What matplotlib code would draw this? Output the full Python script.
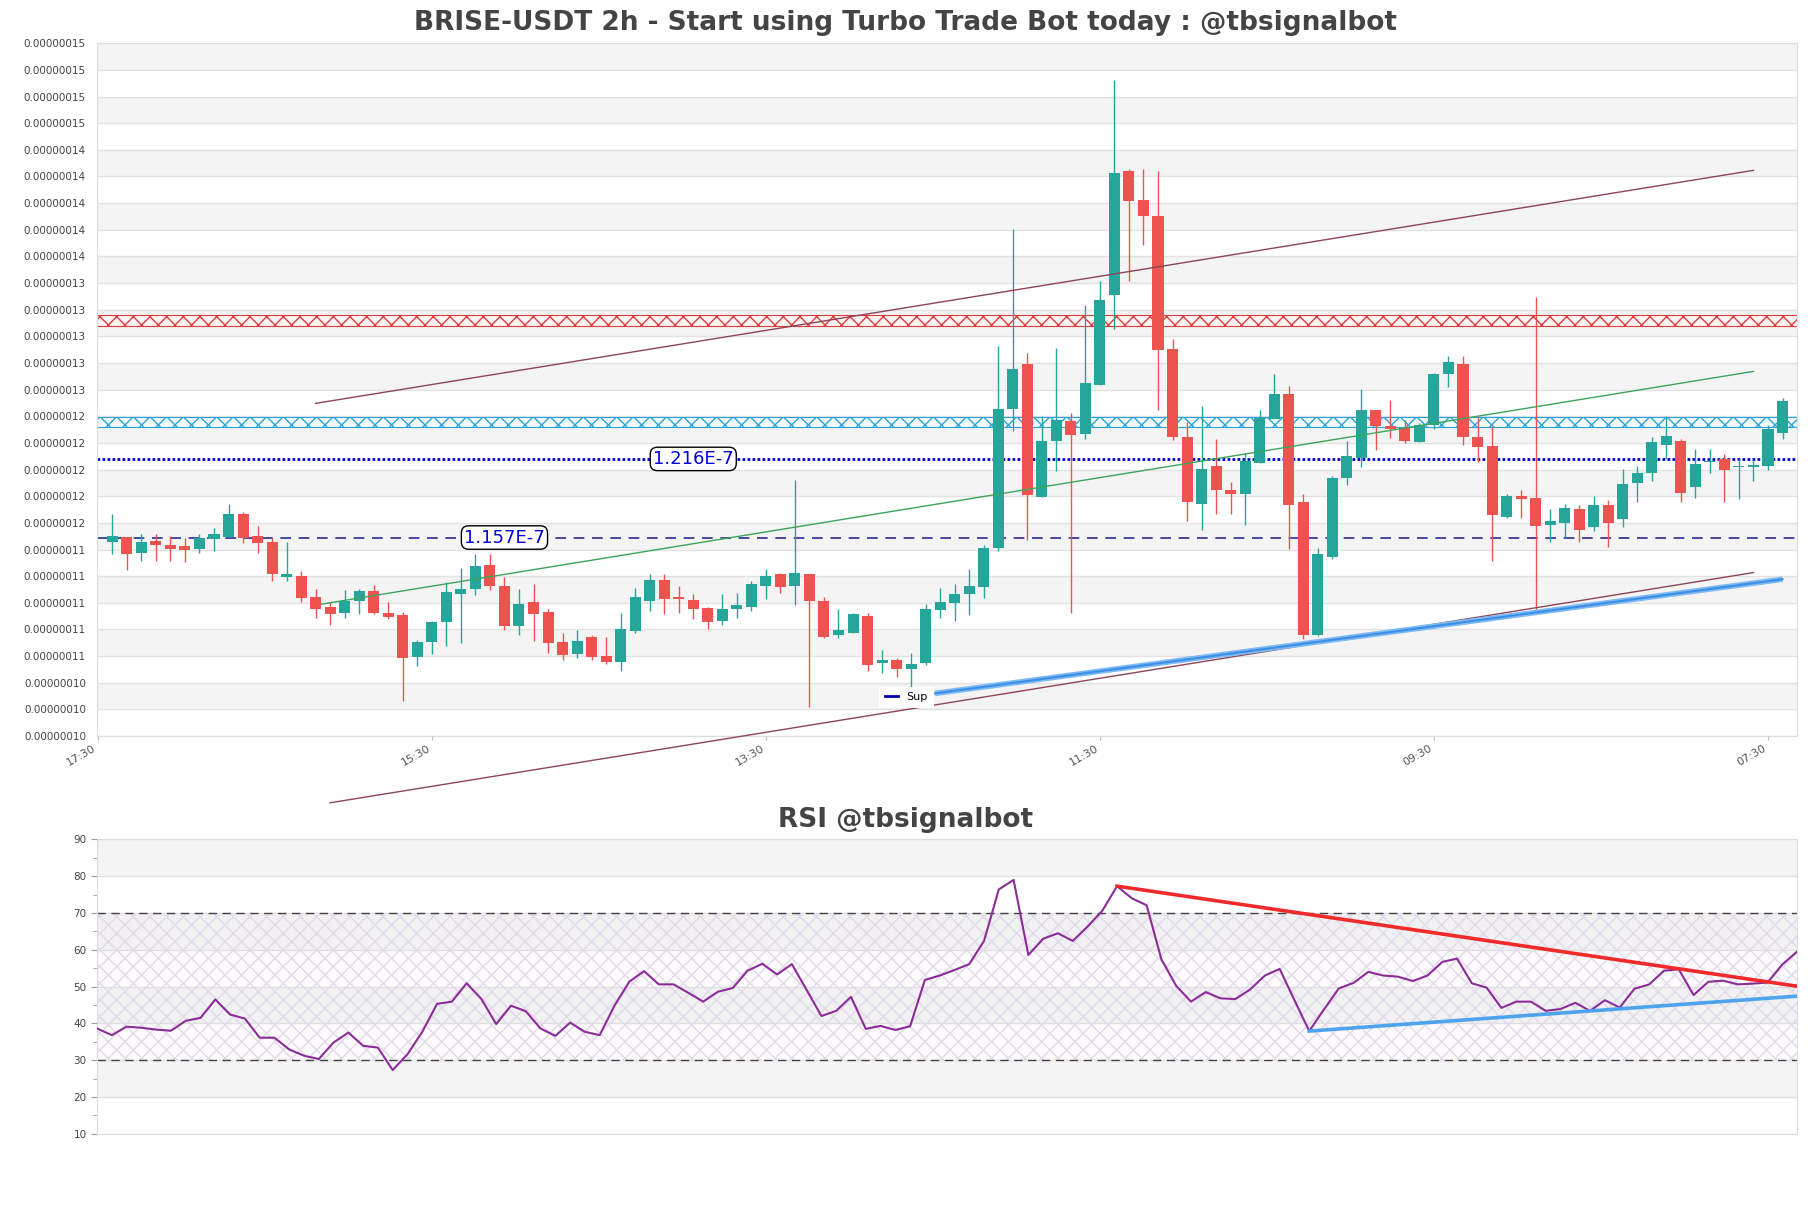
# brise_usdt_chart.py
# Candlestick chart of BRISE-USDT (2h) with trend lines, zones and an RSI panel below
import matplotlib
matplotlib.use("Agg")
import matplotlib.pyplot as plt
from matplotlib.ticker import FuncFormatter, MultipleLocator
from matplotlib.lines import Line2D
import numpy as np

# prices are in units of 1e-7 USDT
opens = [1.1537, 1.1572, 1.1454, 1.1542, 1.1512, 1.1505, 1.1484, 1.1560, 1.1575, 1.1745,
         1.1578, 1.1540, 1.1274, 1.1278, 1.1127, 1.1052, 1.1004, 1.1094, 1.1172, 1.1000,
         1.0992, 1.0674, 1.0785, 1.0935, 1.1147, 1.1182, 1.1362, 1.1205, 1.0907, 1.1085,
         1.1010, 1.0785, 1.0697, 1.0820, 1.0677, 1.0632, 1.0872, 1.1094, 1.1250, 1.1120,
         1.1100, 1.1040, 1.0947, 1.1034, 1.1049, 1.1207, 1.1295, 1.1207, 1.1297, 1.1092,
         1.0839, 1.0856, 1.0982, 1.0629, 1.0650, 1.0584, 1.0629, 1.1025, 1.1079, 1.1147,
         1.1200, 1.1495, 1.2535, 1.2870, 1.1875, 1.2292, 1.2442, 1.2349, 1.2716, 1.3393,
         1.4318, 1.4105, 1.3987, 1.2988, 1.2325, 1.1818, 1.2105, 1.1925, 1.1899, 1.2130,
         1.2461, 1.2645, 1.1836, 1.0842, 1.1425, 1.2017, 1.2167, 1.2525, 1.2407, 1.2392,
         1.2285, 1.2412, 1.2795, 1.2870, 1.2325, 1.2255, 1.1722, 1.1878, 1.1865, 1.1665,
         1.1677, 1.1782, 1.1650, 1.1812, 1.1710, 1.1980, 1.2055, 1.2265, 1.2292, 1.1947,
         1.2135, 1.2163, 1.2097, 1.2097, 1.2107, 1.2355]
highs = [1.1745, 1.1575, 1.1593, 1.1600, 1.1580, 1.1570, 1.1600, 1.1640, 1.1818, 1.1758,
         1.1660, 1.1563, 1.1535, 1.1322, 1.1187, 1.1087, 1.1175, 1.1184, 1.1212, 1.1085,
         1.1010, 1.0800, 1.0945, 1.1235, 1.1340, 1.1447, 1.1447, 1.1270, 1.1182, 1.1222,
         1.1034, 1.0857, 1.0875, 1.0842, 1.0822, 1.1000, 1.1190, 1.1297, 1.1297, 1.1205,
         1.1145, 1.1052, 1.1145, 1.1154, 1.1242, 1.1330, 1.1307, 1.2002, 1.1297, 1.1122,
         1.1032, 1.1000, 1.1000, 1.0725, 1.0665, 1.0707, 1.1070, 1.1190, 1.1220, 1.1332,
         1.1512, 1.3005, 1.3885, 1.2955, 1.2480, 1.2990, 1.2508, 1.3318, 1.3498, 1.5001,
         1.4333, 1.4333, 1.4318, 1.3063, 1.2437, 1.2560, 1.2313, 1.1987, 1.2208, 1.2525,
         1.2795, 1.2705, 1.1893, 1.1488, 1.2030, 1.2298, 1.2688, 1.2525, 1.2600, 1.2450,
         1.2427, 1.2808, 1.2930, 1.2930, 1.2475, 1.2407, 1.1895, 1.1925, 1.3372, 1.1785,
         1.1820, 1.1812, 1.1880, 1.1850, 1.2088, 1.2107, 1.2325, 1.2480, 1.2310, 1.2232,
         1.2238, 1.2195, 1.2163, 1.2150, 1.2412, 1.2617]
lows = [1.1445, 1.1325, 1.1394, 1.1394, 1.1394, 1.1387, 1.1454, 1.1470, 1.1575, 1.1530,
        1.1454, 1.1244, 1.1244, 1.1087, 1.0967, 1.0914, 1.0967, 1.0997, 1.0997, 1.0959,
        1.0344, 1.0607, 1.0695, 1.0757, 1.0780, 1.1140, 1.1175, 1.0877, 1.0837, 1.0795,
        1.0704, 1.0647, 1.0662, 1.0647, 1.0617, 1.0570, 1.0857, 1.1020, 1.0997, 1.1004,
        1.0959, 1.0884, 1.0914, 1.0967, 1.1020, 1.1110, 1.1154, 1.1066, 1.0299, 1.0817,
        1.0818, 1.0850, 1.0570, 1.0550, 1.0525, 1.0450, 1.0612, 1.0967, 1.0945, 1.0989,
        1.1117, 1.1470, 1.2370, 1.1550, 1.1875, 1.2070, 1.1000, 1.2311, 1.2716, 1.3138,
        1.3495, 1.3768, 1.2530, 1.2300, 1.1695, 1.1630, 1.1750, 1.1750, 1.1662, 1.2130,
        1.2461, 1.1484, 1.0812, 1.0830, 1.1412, 1.1965, 1.2100, 1.2230, 1.2320, 1.2280,
        1.2285, 1.2388, 1.2700, 1.2268, 1.2137, 1.1394, 1.1717, 1.1717, 1.1004, 1.1537,
        1.1572, 1.1537, 1.1620, 1.1500, 1.1650, 1.1837, 1.1995, 1.2163, 1.1837, 1.1865,
        1.2055, 1.1837, 1.1857, 1.1995, 1.2075, 1.2307]
closes = [1.1580, 1.1447, 1.1540, 1.1517, 1.1484, 1.1477, 1.1565, 1.1593, 1.1750, 1.1567,
          1.1530, 1.1293, 1.1293, 1.1117, 1.1034, 1.0997, 1.1097, 1.1172, 1.1004, 1.0974,
          1.0668, 1.0783, 1.0935, 1.1160, 1.1182, 1.1355, 1.1207, 1.0907, 1.1070, 1.0997,
          1.0780, 1.0690, 1.0797, 1.0672, 1.0637, 1.0882, 1.1120, 1.1250, 1.1110, 1.1110,
          1.1034, 1.0937, 1.1030, 1.1062, 1.1220, 1.1280, 1.1200, 1.1305, 1.1094, 1.0822,
          1.0875, 1.0993, 1.0614, 1.0647, 1.0584, 1.0620, 1.1032, 1.1085, 1.1145, 1.1207,
          1.1490, 1.2532, 1.2832, 1.1890, 1.2292, 1.2450, 1.2341, 1.2733, 1.3350, 1.4309,
          1.4095, 1.3985, 1.2980, 1.2325, 1.1833, 1.2088, 1.1930, 1.1893, 1.2142, 1.2470,
          1.2650, 1.1812, 1.0842, 1.1445, 1.2015, 1.2180, 1.2525, 1.2405, 1.2385, 1.2292,
          1.2412, 1.2795, 1.2885, 1.2325, 1.2250, 1.1737, 1.1880, 1.1860, 1.1657, 1.1692,
          1.1790, 1.1627, 1.1812, 1.1680, 1.1970, 1.2053, 1.2285, 1.2332, 1.1905, 1.2122,
          1.2145, 1.2077, 1.2107, 1.2118, 1.2382, 1.2592]

rsi = [38.6, 36.8, 39.1, 38.8, 38.3, 38.0, 40.7, 41.5, 46.5, 42.4,
       41.3, 36.1, 36.1, 32.9, 31.2, 30.3, 34.8, 37.5, 33.9, 33.4,
       27.3, 31.6, 37.7, 45.3, 45.9, 50.9, 46.6, 39.8, 44.8, 43.3,
       38.6, 36.6, 40.2, 37.7, 36.8, 44.8, 51.3, 54.2, 50.6, 50.6,
       48.3, 45.9, 48.6, 49.6, 54.3, 56.2, 53.3, 56.1, 49.1, 42.0,
       43.4, 47.2, 38.5, 39.3, 38.2, 39.2, 51.8, 53.0, 54.5, 56.1,
       62.4, 76.4, 79.0, 58.6, 63.0, 64.5, 62.4, 66.3, 70.6, 77.3,
       74.0, 72.1, 57.4, 50.2, 45.9, 48.5, 46.8, 46.6, 49.2, 53.0,
       54.8, 46.3, 37.9, 43.8, 49.5, 51.0, 54.0, 53.0, 52.7, 51.5,
       53.0, 56.7, 57.6, 50.9, 49.7, 44.2, 45.9, 45.9, 43.4, 43.9,
       45.6, 43.4, 46.3, 44.3, 49.4, 50.6, 54.3, 54.7, 47.7, 51.3,
       51.6, 50.6, 50.8, 51.1, 56.0, 59.5]

time_labels = ["17:30", "15:30", "13:30", "11:30", "09:30", "07:30"]
time_label_idx = [-1, 22, 45, 68, 91, 114]

# horizontal levels and zones
support_level = 1.157
resist_level = 1.216
red_zone = [1.316, 1.324]
blue_zone = [1.240, 1.2475]

# trend lines: ([x0, x1], [y0, y1]) in candle index / price
upper_channel = ([14, 113], [1.2577, 1.4326])
lower_channel = ([15, 113], [0.9579, 1.1307])
mid_line = ([14.4, 113], [1.1070, 1.2817])
sup_line = ([56.65, 115], [1.0400, 1.1257])

# RSI trend lines
rsi_down = ([69, 115], [77.3, 50.1])
rsi_up = ([82, 115], [37.9, 47.4])

GREEN = "#26a69a"
RED = "#ef5350"
BAND = "#f4f4f4"
GRID = "#e2e2e2"

fig = plt.figure(figsize=(18.11, 12.08), dpi=100)
ax = fig.add_axes([0.0536, 0.3907, 0.9387, 0.5735])
ax2 = fig.add_axes([0.0536, 0.0615, 0.9387, 0.2436])

# ---- main price panel ----
y_bottom = 1.008
y_step = 0.02
n_bands = 26
for j in range(n_bands):
    if j % 2 == 1:
        ax.axhspan(y_bottom + j * y_step, y_bottom + (j + 1) * y_step, color=BAND, lw=0, zorder=0)
ax.set_ylim(y_bottom, y_bottom + n_bands * y_step)
ax.set_yticks(y_bottom + np.arange(n_bands + 1) * y_step)
ax.yaxis.set_major_formatter(FuncFormatter(lambda v, p: f"{v * 1e-7:.8f}"))
ax.grid(axis="y", color=GRID, lw=1, zorder=0.5)
ax.set_axisbelow(True)

# zones
ax.axhspan(red_zone[0], red_zone[1], facecolor="#fff6f6", edgecolor="#e23b3b",
           hatch="xx", lw=0.8, zorder=1)
ax.axhspan(blue_zone[0], blue_zone[1], facecolor="#f3fbff", edgecolor="#2ba4da",
           hatch="xx", lw=0.8, zorder=1)

# support / resistance lines
ax.axhline(resist_level, color="#0000cc", lw=2, ls=(0, (1, 0.8)), zorder=2)
ax.axhline(support_level, color="#1a1a8c", lw=1.1, ls=(0, (7, 5)), zorder=2)

# candles
for i in range(len(opens)):
    o, h, l, c = opens[i], highs[i], lows[i], closes[i]
    col = GREEN if c >= o else RED
    ax.vlines(i, l, h, color=col, lw=1, zorder=3)
    ax.bar(i, max(abs(c - o), 0.0012), bottom=min(o, c), width=0.76, color=col, lw=0, zorder=4)

# trend lines
ax.plot(*upper_channel, color="#8e4556", lw=1, zorder=5)
ax.plot(*lower_channel, color="#8e4556", lw=1, zorder=5, clip_on=False)
ax.plot(*mid_line, color="#3ba55a", lw=1, zorder=5)
ax.plot(*sup_line, color="#7db9f2", lw=4, zorder=5, solid_capstyle="butt")
ax.plot(*sup_line, color="#3d8ee6", lw=1.5, zorder=5)

# price labels on the levels
box = dict(boxstyle="round,pad=0.15,rounding_size=0.4", fc="white", ec="black", lw=1)
ax.text(40, resist_level, "1.216E-7", color="#0000dd", fontsize=13, ha="center", va="center",
        bbox=box, zorder=6)
ax.text(27, support_level, "1.157E-7", color="#0000dd", fontsize=13, ha="center", va="center",
        bbox=box, zorder=6)

# legend
leg = ax.legend([Line2D([0], [0], color="#0000b0", lw=2)], ["Sup"], loc="center",
                bbox_to_anchor=(0.476, 0.056), fontsize=8, handlelength=1.2,
                frameon=True, fancybox=False, framealpha=1, borderpad=0.5)
leg.get_frame().set_edgecolor("none")
leg.set_zorder(10)

ax.set_xlim(-1.05, 116.0)
ax.set_xticks(time_label_idx)
ax.set_xticklabels(time_labels, rotation=30, ha="right", fontsize=8, color="#555555")
ax.tick_params(axis="x", length=3, color="#bbbbbb", pad=2)
ax.tick_params(axis="y", length=0, labelsize=7.5, labelcolor="#444444", pad=8)
for s in ax.spines.values():
    s.set_color("#dddddd")

# ---- RSI panel ----
for lo in [20, 40, 60, 80]:
    ax2.axhspan(lo, lo + 10, color=BAND, lw=0, zorder=0)
ax2.axhspan(30, 70, facecolor=(0.55, 0.3, 0.65, 0.025), edgecolor="#e2dae9",
            hatch="xx", lw=0, zorder=0.6)
ax2.set_ylim(10, 90)
ax2.set_xlim(0, len(rsi) - 1)
ax2.yaxis.set_major_locator(MultipleLocator(10))
ax2.yaxis.set_minor_locator(MultipleLocator(5))
ax2.grid(axis="y", which="major", color=GRID, lw=1, zorder=0.5)
ax2.set_axisbelow(True)
ax2.axhline(30, color="#444444", lw=1, ls=(0, (6, 4)), zorder=2)
ax2.axhline(70, color="#444444", lw=1, ls=(0, (6, 4)), zorder=2)

ax2.plot(range(len(rsi)), rsi, color="#8b2c98", lw=1.5, zorder=3)
ax2.plot(*rsi_down, color="#f02a2a", lw=2.6, zorder=4)
ax2.plot(*rsi_up, color="#4ea3ef", lw=2.6, zorder=4)

ax2.set_xticks([])
ax2.tick_params(axis="y", which="major", length=4, color="#999999", labelsize=7.5,
                labelcolor="#444444")
ax2.tick_params(axis="y", which="minor", length=3, color="#999999")
for s in ax2.spines.values():
    s.set_color("#dddddd")

# titles
fig.text(0.5, 0.981, "BRISE-USDT 2h - Start using Turbo Trade Bot today : @tbsignalbot",
         ha="center", va="center", fontsize=19, fontweight="bold", color="#444444")
fig.text(0.5, 0.321, "RSI @tbsignalbot", ha="center", va="center", fontsize=19,
         fontweight="bold", color="#444444")

fig.savefig("out.png", dpi=100)
